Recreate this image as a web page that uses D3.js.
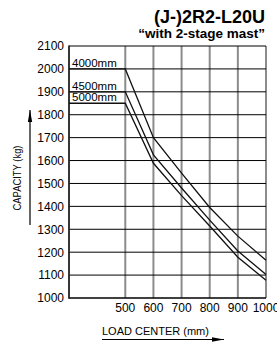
<!DOCTYPE html>
<html>
<head>
<meta charset="utf-8">
<script src="https://cdn.jsdelivr.net/npm/d3@7"></script>
<style>
  html, body { margin: 0; padding: 0; background: #fff; }
  svg { display: block; font-family: "Liberation Sans", Arial, sans-serif; }
</style>
</head>
<body>
<div id="chart"></div>
<script>
// Capacity chart - (J-)2R2-L20U with 2-stage mast
const loadCenters = [300, 500, 600, 700, 800, 900, 1000];
const cap4000 = [2000, 2000, 1700, 1545, 1395, 1270, 1165];
const cap4500 = [1900, 1900, 1625, 1480, 1340, 1205, 1103];
const cap5000 = [1850, 1850, 1588, 1447, 1314, 1178, 1077];
const seriesNames = ["4000mm", "4500mm", "5000mm"];
const xTicks = [500, 600, 700, 800, 900, 1000];
const yTicks = [1000, 1100, 1200, 1300, 1400, 1500, 1600, 1700, 1800, 1900, 2000, 2100];

const W = 277, H = 348;
const margin = { top: 46, right: 11, bottom: 50, left: 69 };

const series = [cap4000, cap4500, cap5000].map((vals, i) => ({
    name: seriesNames[i],
    values: loadCenters.map((lc, j) => ({ lc, cap: vals[j] }))
}));

const svg = d3.select("#chart")
    .append("svg")
    .attr("width", W)
    .attr("height", H);

const x = d3.scaleLinear()
    .domain([300, 1000])
    .range([margin.left, W - margin.right]);

const y = d3.scaleLinear()
    .domain([1000, 2100])
    .range([H - margin.bottom, margin.top]);

// Title
svg.append("text")
    .attr("x", 265).attr("y", 23)
    .attr("text-anchor", "end")
    .attr("font-weight", "bold")
    .attr("font-size", 18)
    .text("(J-)2R2-L20U");

svg.append("text")
    .attr("x", 265).attr("y", 37.5)
    .attr("text-anchor", "end")
    .attr("font-weight", "bold")
    .attr("font-size", 13.5)
    .text("\u201cwith 2-stage mast\u201d");

// Vertical grid (gray)
svg.append("g")
    .selectAll("line")
    .data(xTicks)
    .enter()
    .append("line")
    .attr("x1", d => x(d)).attr("x2", d => x(d))
    .attr("y1", y(2100)).attr("y2", y(1000))
    .attr("stroke", "#8c8c8c")
    .attr("stroke-width", 2);

// Horizontal grid (black)
svg.append("g")
    .selectAll("line")
    .data(yTicks)
    .enter()
    .append("line")
    .attr("x1", x(300)).attr("x2", x(1000))
    .attr("y1", d => y(d)).attr("y2", d => y(d))
    .attr("stroke", "#000")
    .attr("stroke-width", d => d === 1000 ? 1.5 : 1);

// Left border
svg.append("line")
    .attr("x1", x(300)).attr("x2", x(300))
    .attr("y1", y(2100) - 0.5).attr("y2", y(1000) + 0.75)
    .attr("stroke", "#222")
    .attr("stroke-width", 1.8);

// Y tick labels
svg.append("g")
    .selectAll("text")
    .data(yTicks)
    .enter()
    .append("text")
    .attr("x", x(300) - 5)
    .attr("y", d => y(d))
    .attr("dy", "0.36em")
    .attr("text-anchor", "end")
    .attr("font-size", 12)
    .text(d => d);

// X tick labels
svg.append("g")
    .selectAll("text")
    .data(xTicks)
    .enter()
    .append("text")
    .attr("x", d => x(d))
    .attr("y", y(1000) + 14)
    .attr("text-anchor", "middle")
    .attr("font-size", 12)
    .text(d => d);

// Curves
const line = d3.line()
    .x(d => x(d.lc))
    .y(d => y(d.cap));

svg.selectAll(".cap-line")
    .data(series)
    .enter()
    .append("path")
    .attr("class", "cap-line")
    .attr("d", d => line(d.values))
    .attr("fill", "none")
    .attr("stroke", "#111")
    .attr("stroke-width", 1.3);

// Mast height labels sitting on the flat part
svg.selectAll(".cap-label")
    .data(series)
    .enter()
    .append("text")
    .attr("class", "cap-label")
    .attr("x", x(300) + 3)
    .attr("y", d => y(d.values[0].cap) - 2)
    .attr("font-size", 11.5)
    .text(d => d.name);

// Axis titles with arrows
svg.append("defs").append("marker")
    .attr("id", "arrow")
    .attr("viewBox", "0 0 12 6")
    .attr("refX", 12).attr("refY", 3)
    .attr("markerWidth", 12).attr("markerHeight", 6)
    .attr("markerUnits", "userSpaceOnUse")
    .attr("orient", "auto")
    .append("path")
    .attr("d", "M0,0.8 L12,3 L0,5.2 Z")
    .attr("fill", "#000");

svg.append("text")
    .attr("transform", "translate(21,178) rotate(-90)")
    .attr("text-anchor", "middle")
    .attr("font-size", 11.5)
    .attr("textLength", 65)
    .attr("lengthAdjust", "spacingAndGlyphs")
    .text("CAPACITY (kg)");

svg.append("line")
    .attr("x1", 30).attr("x2", 30)
    .attr("y1", 225).attr("y2", 110)
    .attr("stroke", "#000")
    .attr("stroke-width", 1.2)
    .attr("marker-end", "url(#arrow)");

svg.append("text")
    .attr("x", 102).attr("y", 335)
    .attr("font-size", 11)
    .text("LOAD CENTER (mm)");

svg.append("line")
    .attr("x1", 102).attr("x2", 224)
    .attr("y1", 339.5).attr("y2", 339.5)
    .attr("stroke", "#000")
    .attr("stroke-width", 1.2)
    .attr("marker-end", "url(#arrow)");
</script>
</body>
</html>
